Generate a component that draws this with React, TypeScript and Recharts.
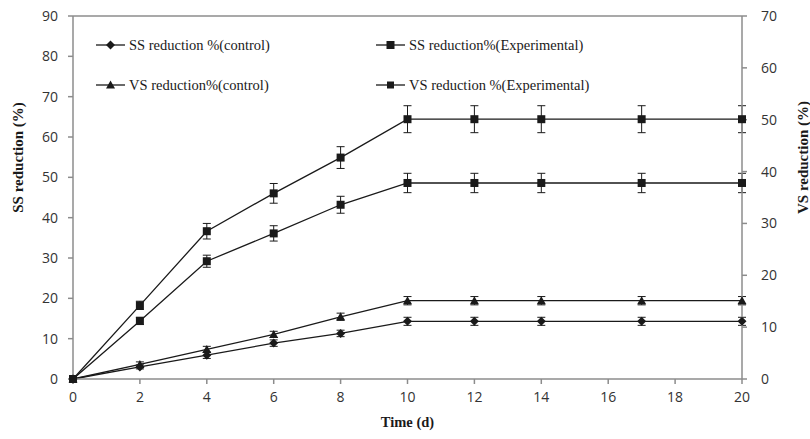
import React from "react";
import {
  LineChart,
  Line,
  XAxis,
  YAxis,
  ErrorBar,
  ReferenceLine,
} from "recharts";

// days sampled
const days = [0, 2, 4, 6, 8, 10, 12, 14, 17, 20];

// SS series read on the left axis (0-90)
const ssControl = [0, 3.0, 5.9, 8.9, 11.3, 14.3, 14.3, 14.3, 14.3, 14.3];
const ssControlErr = [0, 0.5, 0.8, 0.8, 0.8, 1.0, 1.0, 1.0, 1.0, 1.0];
const ssExp = [0, 14.4, 29.2, 36.1, 43.2, 48.6, 48.6, 48.6, 48.6, 48.6];
const ssExpErr = [0, 0.9, 1.5, 1.9, 2.1, 2.4, 2.4, 2.4, 2.4, 2.4];

// VS series read on the right axis (0-70)
const vsControl = [0, 2.8, 5.7, 8.6, 12.0, 15.1, 15.1, 15.1, 15.1, 15.1];
const vsControlErr = [0, 0.5, 0.6, 0.6, 0.7, 0.8, 0.8, 0.8, 0.8, 0.8];
const vsExp = [0, 14.2, 28.5, 35.8, 42.7, 50.1, 50.1, 50.1, 50.1, 50.1];
const vsExpErr = [0, 0.8, 1.5, 1.9, 2.1, 2.6, 2.6, 2.6, 2.6, 2.6];

const xTicks = [0, 2, 4, 6, 8, 10, 12, 14, 16, 18, 20];
const leftTicks = [0, 10, 20, 30, 40, 50, 60, 70, 80, 90];
const rightTicks = [0, 10, 20, 30, 40, 50, 60, 70];

const data = days.map((d, i) => ({
  day: d,
  ssControl: ssControl[i],
  ssControlErr: ssControlErr[i],
  ssExp: ssExp[i],
  ssExpErr: ssExpErr[i],
  vsControl: vsControl[i],
  vsControlErr: vsControlErr[i],
  vsExp: vsExp[i],
  vsExpErr: vsExpErr[i],
}));

const INK = "#1a1a1a";
const AXIS = "#8c8c8c";
const serif = "'Liberation Serif', 'Times New Roman', serif";
const sans = "'Open Sans', sans-serif";

type Shape = "diamond" | "square" | "triangle" | "smallSquare";

function marker(shape: Shape, cx: number, cy: number, key?: string) {
  if (shape === "diamond") {
    return (
      <path
        key={key}
        d={`M${cx},${cy - 4.5}L${cx + 4.5},${cy}L${cx},${cy + 4.5}L${cx - 4.5},${cy}Z`}
        fill={INK}
      />
    );
  }
  if (shape === "triangle") {
    return (
      <path
        key={key}
        d={`M${cx},${cy - 4.5}L${cx + 4.5},${cy + 3.5}L${cx - 4.5},${cy + 3.5}Z`}
        fill={INK}
      />
    );
  }
  const s = shape === "square" ? 8 : 7;
  return <rect key={key} x={cx - s / 2} y={cy - s / 2} width={s} height={s} fill={INK} />;
}

const dotFor = (shape: Shape, id: string) => (p: any) =>
  marker(shape, p.cx, p.cy, `${id}-${p.index}`);

const legendItems: { label: string; shape: Shape }[] = [
  { label: "SS reduction %(control)", shape: "diamond" },
  { label: "SS reduction%(Experimental)", shape: "square" },
  { label: "VS reduction%(control)", shape: "triangle" },
  { label: "VS reduction %(Experimental)", shape: "smallSquare" },
];

function LegendBox() {
  return (
    <div
      style={{
        position: "absolute",
        left: 96,
        top: 25,
        display: "grid",
        gridTemplateColumns: "280px 280px",
        gridAutoRows: "40px",
        fontFamily: serif,
        fontSize: 14.5,
        color: INK,
      }}
    >
      {legendItems.map((it) => (
        <div key={it.label} style={{ display: "flex", alignItems: "center" }}>
          <svg width={33} height={12}>
            <line x1={0} y1={6} x2={29} y2={6} stroke={INK} strokeWidth={1.3} />
            {marker(it.shape, 14.5, 6)}
          </svg>
          <span>{it.label}</span>
        </div>
      ))}
    </div>
  );
}

function SideLabel(props: any) {
  const { viewBox, value, side } = props;
  const x = side === "left" ? viewBox.x + 18 : viewBox.x + viewBox.width - 7;
  const y = viewBox.y + viewBox.height / 2 - 40;
  return (
    <text
      x={x}
      y={y}
      transform={`rotate(-90, ${x}, ${y})`}
      textAnchor="middle"
      dominantBaseline="central"
      fontFamily={serif}
      fontWeight="bold"
      fontSize={15}
      fill={INK}
    >
      {value}
    </text>
  );
}

export default function App() {
  const tick = { fill: "#333", fontSize: 14, fontFamily: sans };
  return (
    <div style={{ position: "absolute", left: 0, top: 0, width: 810, height: 439, background: "#fff" }}>
      <LineChart
        width={810}
        height={439}
        data={data}
        margin={{ top: 16, right: 0, bottom: 0, left: 0 }}
      >
        <XAxis
          dataKey="day"
          type="number"
          domain={[0, 20]}
          ticks={xTicks}
          stroke={AXIS}
          strokeWidth={1.5}
          tickSize={5}
          tickMargin={8}
          tick={tick}
          height={60}
          label={{
            value: "Time (d)",
            position: "insideBottom",
            offset: 12,
            fontFamily: serif,
            fontWeight: "bold",
            fontSize: 14.5,
            fill: INK,
          }}
        />
        <YAxis
          yAxisId="left"
          domain={[0, 90]}
          ticks={leftTicks}
          width={73}
          stroke={AXIS}
          strokeWidth={1.5}
          tickSize={5}
          tickMargin={10}
          tick={tick}
          label={<SideLabel value="SS reduction (%)" side="left" />}
        />
        <YAxis
          yAxisId="right"
          orientation="right"
          domain={[0, 70]}
          ticks={rightTicks}
          width={68}
          stroke={AXIS}
          strokeWidth={1.5}
          tickSize={5}
          tickMargin={14}
          tick={tick}
          label={<SideLabel value="VS reduction (%)" side="right" />}
        />
        <ReferenceLine yAxisId="left" y={90} stroke={AXIS} strokeWidth={1.5} />
        <Line
          yAxisId="left"
          dataKey="ssControl"
          name="SS reduction %(control)"
          stroke={INK}
          strokeWidth={1.3}
          dot={dotFor("diamond", "ssc")}
          isAnimationActive={false}
        >
          <ErrorBar dataKey="ssControlErr" direction="y" width={4} stroke={INK} strokeWidth={1} />
        </Line>
        <Line
          yAxisId="left"
          dataKey="ssExp"
          name="SS reduction%(Experimental)"
          stroke={INK}
          strokeWidth={1.3}
          dot={dotFor("square", "sse")}
          isAnimationActive={false}
        >
          <ErrorBar dataKey="ssExpErr" direction="y" width={4} stroke={INK} strokeWidth={1} />
        </Line>
        <Line
          yAxisId="right"
          dataKey="vsControl"
          name="VS reduction%(control)"
          stroke={INK}
          strokeWidth={1.3}
          dot={dotFor("triangle", "vsc")}
          isAnimationActive={false}
        >
          <ErrorBar dataKey="vsControlErr" direction="y" width={4} stroke={INK} strokeWidth={1} />
        </Line>
        <Line
          yAxisId="right"
          dataKey="vsExp"
          name="VS reduction %(Experimental)"
          stroke={INK}
          strokeWidth={1.3}
          dot={dotFor("square", "vse")}
          isAnimationActive={false}
        >
          <ErrorBar dataKey="vsExpErr" direction="y" width={4} stroke={INK} strokeWidth={1} />
        </Line>
      </LineChart>
      <LegendBox />
    </div>
  );
}
